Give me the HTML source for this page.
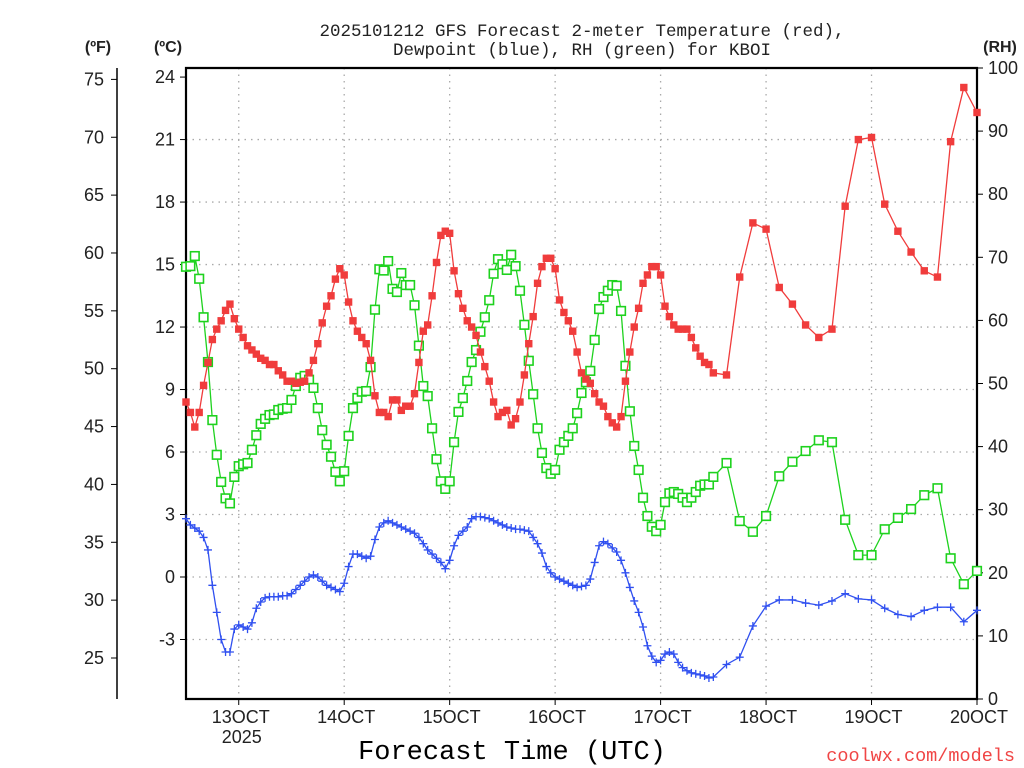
<!DOCTYPE html>
<html><head><meta charset="utf-8"><style>
html,body{margin:0;padding:0;background:#fff;width:1024px;height:768px;overflow:hidden}
svg{display:block}
text{font-family:"Liberation Mono","DejaVu Sans Mono",monospace;fill:#222}
.sans{font-family:"Liberation Sans","DejaVu Sans",sans-serif}
</style></head><body>
<svg id="chart" width="1024" height="768" viewBox="0 0 1024 768" xmlns="http://www.w3.org/2000/svg">
<g>
<text x="582" y="36" font-size="17.5" text-anchor="middle">2025101212 GFS Forecast 2-meter Temperature (red),</text>
<text x="582" y="55" font-size="17.5" text-anchor="middle">Dewpoint (blue), RH (green) for KBOI</text>
</g>
<text class="sans" x="98" y="52" font-size="16" font-weight="bold" text-anchor="middle">(ºF)</text>
<text class="sans" x="168" y="52" font-size="16" font-weight="bold" text-anchor="middle">(ºC)</text>
<text class="sans" x="1000" y="52" font-size="16" font-weight="bold" text-anchor="middle">(RH)</text>
<text x="512" y="759" font-size="27" text-anchor="middle" style="fill:#000">Forecast Time (UTC)</text>
<text x="1015" y="761" font-size="18.5" text-anchor="end" style="fill:#f04545">coolwx.com/models</text>
<g id="grid"></g><g id="axes"></g><g id="series"></g>
</svg>
<script>
const hours=[];for(let h=0;h<=120;h++)hours.push(h);for(let h=123;h<=180;h+=3)hours.push(h);
const tempC=[8.4,7.9,7.2,7.9,9.2,10.3,11.4,11.9,12.3,12.8,13.1,12.4,11.9,11.5,11.1,10.9,10.7,10.5,10.4,10.2,10.2,9.9,9.7,9.4,
9.4,9.3,9.35,9.4,9.8,10.4,11.2,12.2,13.0,13.5,14.3,14.8,14.5,13.2,12.3,11.8,11.5,11.2,10.4,8.7,7.9,7.9,7.7,8.5,8.5,8.0,8.2,8.2,8.8,10.3,11.8,12.1,13.5,15.1,16.4,16.6,
16.5,14.7,13.6,12.9,12.3,12.0,11.6,10.8,10.1,9.4,8.4,7.7,7.9,8.0,7.3,7.6,8.4,9.7,11.2,12.5,14.1,14.9,15.3,15.3,14.8,13.3,12.7,12.3,11.8,10.8,9.8,9.5,9.3,8.8,8.4,8.2,7.7,7.4,7.2,7.7,9.4,10.8,12.0,12.9,14.1,14.5,14.9,14.9,14.5,13.0,12.5,12.1,11.9,11.9,11.9,11.5,11.0,10.6,10.3,10.2,9.8,
9.7,14.4,17.0,16.7,13.9,13.1,12.1,11.5,11.9,17.8,21.0,21.1,17.9,16.6,15.6,14.7,14.4,20.9,23.5,22.3];
const dewC=[2.8,2.5,2.35,2.2,1.9,1.3,-0.4,-1.7,-3.0,-3.6,-3.6,-2.5,-2.3,-2.4,-2.5,-2.2,-1.5,-1.2,-1.0,-0.95,
-0.95,-0.95,-0.9,-0.9,-0.8,-0.6,-0.4,-0.2,0.0,0.1,0.0,-0.2,-0.4,-0.5,-0.6,-0.7,-0.3,0.5,1.1,1.1,
1.0,0.9,1.0,1.8,2.4,2.6,2.7,2.6,2.5,2.4,2.3,2.2,2.1,1.9,1.6,1.3,1.1,0.9,0.7,0.4,
0.8,1.5,2.0,2.2,2.4,2.8,2.9,2.9,2.85,2.8,2.7,2.6,2.5,2.4,2.35,2.3,2.3,2.25,2.2,1.9,
1.6,1.15,0.5,0.2,0.0,-0.1,-0.2,-0.3,-0.4,-0.5,-0.45,-0.4,-0.1,0.7,1.5,1.7,1.6,1.4,1.2,0.8,
0.2,-0.5,-1.15,-1.7,-2.4,-3.3,-3.8,-4.1,-4.0,-3.7,-3.6,-3.7,-4.1,-4.35,-4.5,-4.6,-4.65,-4.7,-4.75,-4.85,-4.8,
-4.2,-3.85,-2.35,-1.4,-1.1,-1.1,-1.25,-1.35,-1.15,-0.8,-1.05,-1.1,-1.5,-1.8,-1.9,-1.6,-1.45,-1.45,-2.15,-1.6];
const rhPct=[68.5,68.6,70.2,66.6,60.5,53.4,44.2,38.7,34.4,31.8,31.0,35.2,36.9,37.2,37.4,39.5,41.8,43.6,44.4,45.0,
45.1,45.8,46.0,46.1,47.4,49.6,50.9,51.2,50.6,49.3,46.1,42.6,40.3,38.4,36.0,34.5,36.1,41.7,46.1,47.7,
48.7,48.8,52.6,61.7,68.1,67.9,69.4,65.0,64.5,67.5,65.6,65.6,62.4,56.0,49.6,48.0,42.9,38.0,34.5,33.3,
34.5,40.7,45.5,47.7,50.4,53.4,55.3,58.2,60.5,63.2,67.4,69.7,68.9,68.0,70.4,68.6,64.7,59.3,53.6,48.3,
42.9,39.0,36.6,35.7,36.3,39.5,40.7,41.7,42.9,45.3,48.5,50.2,52.0,56.9,61.8,63.7,64.7,65.6,65.5,61.5,
52.8,45.6,40.1,36.3,31.9,29.0,27.3,26.6,27.6,31.2,32.6,32.8,32.5,31.9,31.2,31.9,32.8,33.8,34.0,34.0,35.2,
37.4,28.2,26.5,29.0,35.3,37.6,39.3,41.0,40.7,28.4,22.8,22.8,26.9,28.7,30.1,32.3,33.4,22.3,18.2,20.3];
const cTicks=[-3,0,3,6,9,12,15,18,21,24];
const fTicks=[25,30,35,40,45,50,55,60,65,70,75];
const rhTicks=[0,10,20,30,40,50,60,70,80,90,100];
const dayLabels=["13OCT","14OCT","15OCT","16OCT","17OCT","18OCT","19OCT","20OCT"];

const NS="http://www.w3.org/2000/svg";
const X0=186,X1=977,YT=68,YB=699;
const xS=h=>X0+(X1-X0)*h/180;
const yC=c=>577-c*20.83;
const yF=f=>yC((f-32)*5/9);
const yRH=r=>YB-(YB-YT)*r/100;
function mk(tag,attrs,parent){const e=document.createElementNS(NS,tag);for(const k in attrs)e.setAttribute(k,attrs[k]);parent.appendChild(e);return e;}
const grid=document.getElementById('grid'),axes=document.getElementById('axes'),ser=document.getElementById('series');

cTicks.forEach(c=>{const y=yC(c);
 if(c!==24){const g=mk('line',{x1:X0,x2:X1,y1:y,y2:y,stroke:'#aaa','stroke-width':1.3,'stroke-dasharray':'1.5,5'},grid);
 
 }
 const t=mk('line',{x1:X0-6,x2:X0,y1:y,y2:y,stroke:'#000','stroke-width':1},axes);
 
 
 const l=mk('text',{class:'sans',x:X0-11,y:y+6,'font-size':18,'text-anchor':'end'},axes);l.textContent=c;
 
 
});
fTicks.forEach(f=>{const y=yF(f);
 mk('line',{x1:111,x2:117,y1:y,y2:y,stroke:'#000','stroke-width':1},axes);
 const l=mk('text',{class:'sans',x:104,y:y+6,'font-size':18,'text-anchor':'end'},axes);l.textContent=f;
 
 
});
rhTicks.forEach(r=>{const y=yRH(r);
 mk('line',{x1:X1,x2:X1+6,y1:y,y2:y,stroke:'#000','stroke-width':1},axes);
 const l=mk('text',{class:'sans',x:988,y:y+6,'font-size':18},axes);l.textContent=r;
 
 
});
dayLabels.forEach((d,i)=>{const x=xS(12+24*i);
 if(i<7){const g=mk('line',{x1:x,x2:x,y1:YT,y2:YB,stroke:'#aaa','stroke-width':1.3,'stroke-dasharray':'1.5,5'},grid);
 
 }
 mk('line',{x1:x,x2:x,y1:YB,y2:YB+6,stroke:'#000','stroke-width':1},axes);
 const l=mk('text',{class:'sans',x:x+2,y:723,'font-size':18,'text-anchor':'middle'},axes);l.textContent=d;
 
 
});
const yr=mk('text',{class:'sans',x:xS(12)+3,y:743,'font-size':18,'text-anchor':'middle'},axes);yr.textContent="2025";


const fa=mk('line',{x1:117,x2:117,y1:YT,y2:YB,stroke:'#000','stroke-width':1.5},axes);


const fr=mk('path',{d:`M${X0} ${YT}H${X1}V${YB}H${X0}Z`,fill:'none',stroke:'#000','stroke-width':2.2},axes);



function series(vals,yf,color,name,marker){
 const g=mk('g',{},ser);
 
 
 const pts=vals.map((v,i)=>[xS(hours[i]),yf(v)]);
 mk('polyline',{points:pts.map(p=>p.join(',')).join(' '),fill:'none',stroke:color,'stroke-width':1.3},g);
 pts.forEach(([x,y])=>{let m;
  if(marker==='fill'){m=mk('rect',{x:x-3.7,y:y-3.7,width:7.4,height:7.4,fill:color},g);}
  else if(marker==='open'){m=mk('rect',{x:x-4.3,y:y-4.3,width:8.6,height:8.6,fill:'#fff',stroke:color,'stroke-width':1.6},g);}
  else{m=mk('path',{d:`M${x-4} ${y}H${x+4}M${x} ${y-4}V${y+4}`,stroke:color,'stroke-width':1.3},g);}
  
  
 });
}
series(rhPct,yRH,'#1ed21e','rh-series','open');
series(tempC,yC,'#f03c3c','temperature-series','fill');
series(dewC,yC,'#3050f0','dewpoint-series','plus');
</script>
</body></html>
